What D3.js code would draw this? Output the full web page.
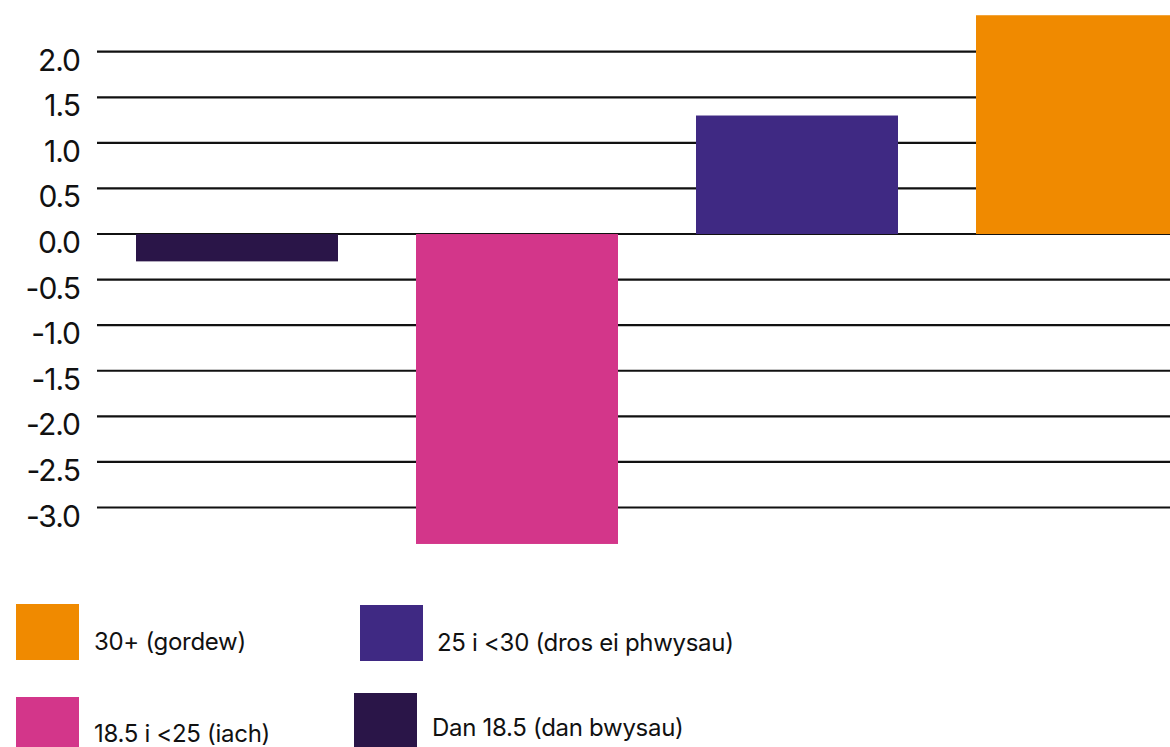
<!DOCTYPE html>
<html><head><meta charset="utf-8">
<script src="https://cdn.jsdelivr.net/npm/d3@7"></script>
<style>
html,body{margin:0;padding:0;background:#fff;}
svg{display:block;}
text{font-family:Inter,"Liberation Sans",sans-serif;fill:#111;}
</style></head>
<body>
<svg id="chart" width="1170" height="747"></svg>
<script>
const categories = ["Dan 18.5 (dan bwysau)", "18.5 i <25 (iach)", "25 i <30 (dros ei phwysau)", "30+ (gordew)"];
const values = [-0.3, -3.4, 1.3, 2.4];
const colors = ["#2A1548", "#D3368A", "#3F2983", "#F08A00"];
const tickValues = [-3.0, -2.5, -2.0, -1.5, -1.0, -0.5, 0.0, 0.5, 1.0, 1.5, 2.0];
const legendOrder = ["30+ (gordew)", "25 i <30 (dros ei phwysau)", "18.5 i <25 (iach)", "Dan 18.5 (dan bwysau)"];

const svg = d3.select("#chart");
const W = 1170;

const x = d3.scaleBand().domain(categories).range([97, 1217]).paddingInner(0.2786).paddingOuter(0.1393);
const y = d3.scaleLinear().domain([-3, 2]).range([507.5, 51.7]);

// gridlines
svg.append("g").selectAll("line").data(tickValues).join("line")
  .attr("x1", 97).attr("x2", W)
  .attr("y1", d => y(d)).attr("y2", d => y(d))
  .attr("stroke", "#111").attr("stroke-width", 2.2);

// tick labels
svg.append("g").selectAll("text").data(tickValues).join("text")
  .attr("x", 80).attr("y", d => y(d) + 19)
  .attr("text-anchor", "end")
  .attr("font-size", 30).attr("letter-spacing", -1)
  .text(d => d.toFixed(1));

// bars
const colorOf = d3.scaleOrdinal().domain(categories).range(colors);
svg.append("g").selectAll("rect").data(categories).join("rect")
  .attr("x", d => x(d)).attr("width", x.bandwidth())
  .attr("y", (d, i) => y(Math.max(0, values[i])))
  .attr("height", (d, i) => Math.abs(y(values[i]) - y(0)))
  .attr("fill", d => colorOf(d));

// legend
const legendPos = [
  {sx: 16, sy: 604, w: 63, h: 56, tx: 94, ty: 650},
  {sx: 360, sy: 605, w: 63, h: 56, tx: 437, ty: 651},
  {sx: 16, sy: 697, w: 63, h: 56, tx: 94, ty: 742},
  {sx: 354, sy: 693, w: 63, h: 56, tx: 432, ty: 736}
];
const lg = svg.append("g");
legendOrder.forEach((name, i) => {
  const p = legendPos[i];
  lg.append("rect").attr("x", p.sx).attr("y", p.sy).attr("width", p.w).attr("height", p.h).attr("fill", colorOf(name));
  lg.append("text").attr("x", p.tx).attr("y", p.ty).attr("font-size", 24).attr("letter-spacing", -0.3).text(name);
});
</script>
</body></html>
